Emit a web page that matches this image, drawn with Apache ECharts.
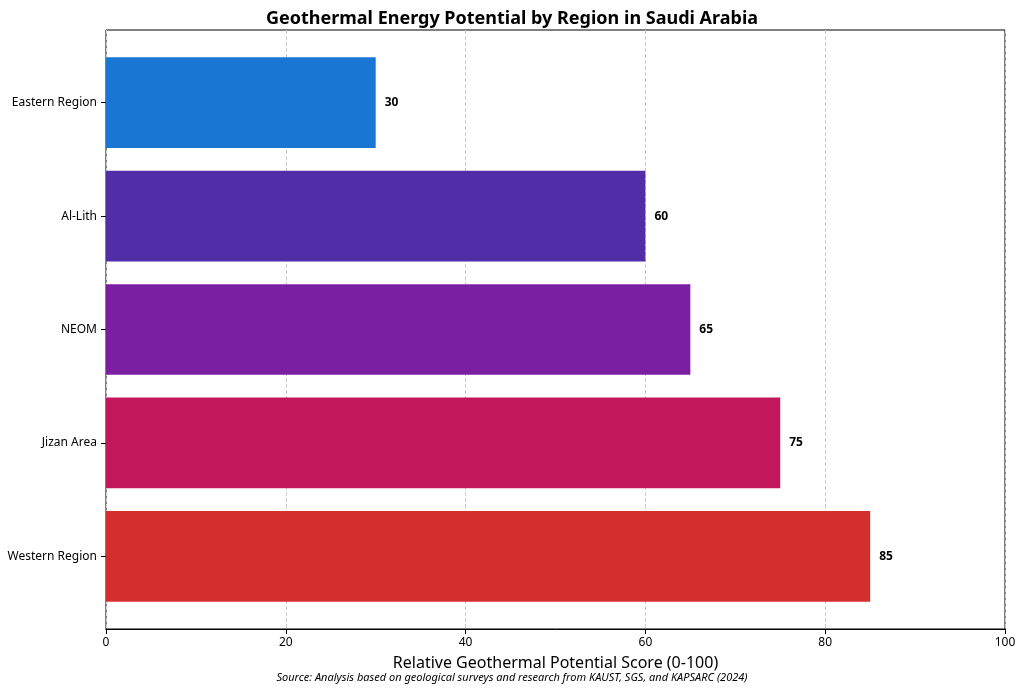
<!DOCTYPE html>
<html><head><meta charset="utf-8">
<script src="https://cdn.jsdelivr.net/npm/echarts@6/dist/echarts.min.js"></script>
<style>html,body{margin:0;padding:0;background:#fff}#c{width:1024px;height:690px}</style>
</head><body><div id="c"></div>
<script>
const categories = ["Eastern Region","Al-Lith","NEOM","Jizan Area","Western Region"];
const values = [30,60,65,75,85];
const colors = ["#1976d2","#512da8","#7b1fa2","#c2185b","#d32f2f"];
const xTicks = [0,20,40,60,80,100];
const chart = echarts.init(document.getElementById('c'));
const F = "'Noto Sans', 'DejaVu Sans', sans-serif";
chart.setOption({
  animation:false,
  textStyle:{fontFamily:F},
  title:[{text:"Geothermal Energy Potential by Region in Saudi Arabia",left:'center',top:5,textStyle:{fontFamily:F,fontSize:18,fontWeight:'bold',color:'#000'}},
         {text:"Source: Analysis based on geological surveys and research from KAUST, SGS, and KAPSARC (2024)",left:'center',top:667,textStyle:{fontFamily:F,fontSize:11,fontStyle:'italic',fontWeight:'normal',color:'#000'}}],
  grid:[{left:106,right:19,top:30,bottom:61,show:true,borderColor:'#000',borderWidth:1},
        {left:106,right:19,top:46,bottom:77}],
  xAxis:[{gridIndex:0,type:'value',min:0,max:100,interval:20,
    name:"Relative Geothermal Potential Score (0-100)",nameLocation:'middle',nameGap:26,
    nameTextStyle:{fontSize:16,color:'#000',fontFamily:F},
    axisLine:{show:true,lineStyle:{color:'#000'}},axisTick:{show:true,lineStyle:{color:'#000'}},
    axisLabel:{color:'#000',fontSize:12,formatter:v=>xTicks.includes(v)?String(v):''},
    splitLine:{show:true,lineStyle:{type:'dashed',color:'#ccc'}}},
    {gridIndex:1,type:'value',min:0,max:100,show:false,splitLine:{show:false}}],
  yAxis:[{gridIndex:0,type:'value',show:false,splitLine:{show:false}},
    {gridIndex:1,type:'category',data:categories,inverse:true,
    axisLine:{show:false},axisTick:{show:true,alignWithLabel:true,length:5,lineStyle:{color:'#000'}},
    axisLabel:{color:'#000',fontSize:12,margin:9}}],
  series:[{type:'bar',xAxisIndex:1,yAxisIndex:1,barCategoryGap:'20%',
    data:values.map((v,i)=>({value:v,itemStyle:{color:colors[i]}})),
    label:{show:true,position:'right',distance:9,fontWeight:'bold',fontSize:12,color:'#000'}}]
});
</script></body></html>
